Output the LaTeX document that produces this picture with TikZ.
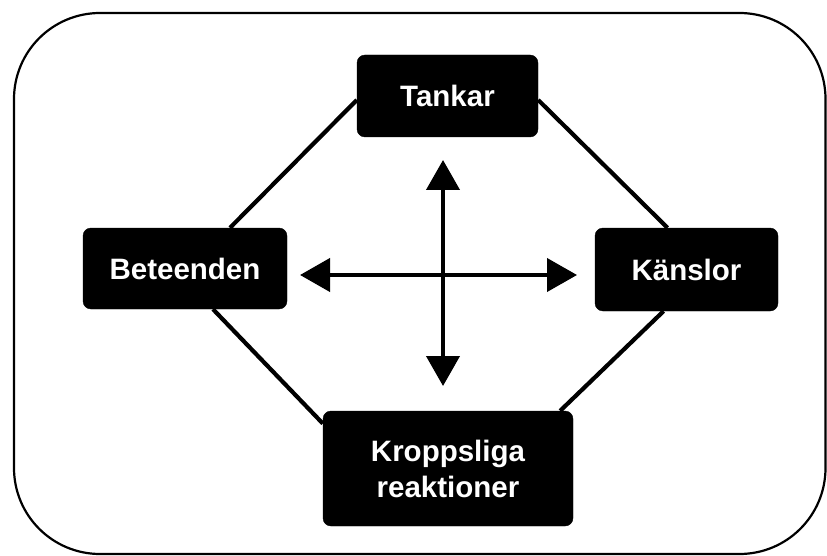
\documentclass[tikz,border=0pt]{standalone}
\usepackage{fontspec}
\setmainfont{Liberation Sans}
\usetikzlibrary{arrows.meta,calc}
\begin{document}
\begin{tikzpicture}[x=1pt,y=-1pt,
  box/.style={fill=black,draw=black,rounded corners=8pt,text=white,
    font=\fontsize{29.5}{36}\selectfont\bfseries,align=center,inner sep=0pt},
  link/.style={line width=4.2pt},
  dblarrow/.style={line width=4.2pt,{Triangle[width=33pt,length=30pt]}-{Triangle[width=33pt,length=30pt]}}]
\useasboundingbox (0,0) rectangle (827,556);
\draw[line width=2.2pt,rounded corners=86pt] (14,13) rectangle (825.5,554);
\node[box,minimum width=181pt,minimum height=82pt] (tankar) at (447.5,96) {Tankar};
\node[box,minimum width=204pt,minimum height=81pt] (beteenden) at (185,268.5) {Beteenden};
\node[box,minimum width=183pt,minimum height=83pt] (kanslor) at (686.5,269.5) {Känslor};
\node[box,minimum width=250pt,minimum height=115pt] (kropp) at (448,468.5) {Kroppsliga\\reaktioner};
\draw[link] ([yshift=-4pt]tankar.west) -- ([xshift=45pt]beteenden.north);
\draw[link] ([yshift=-4pt]tankar.east) -- ([xshift=-19pt]kanslor.north);
\draw[link] ([xshift=28pt]beteenden.south) -- ([yshift=45pt]kropp.west);
\draw[link] ([xshift=-23pt]kanslor.south) -- ([xshift=-13pt]kropp.north east);
\coordinate (vt) at (443,160);
\coordinate (vb) at (443,386);
\coordinate (hl) at (300,275);
\coordinate (hr) at (577,275);
\draw[dblarrow] (vt) -- (vb);
\draw[dblarrow] (hl) -- (hr);
\end{tikzpicture}
\end{document}
